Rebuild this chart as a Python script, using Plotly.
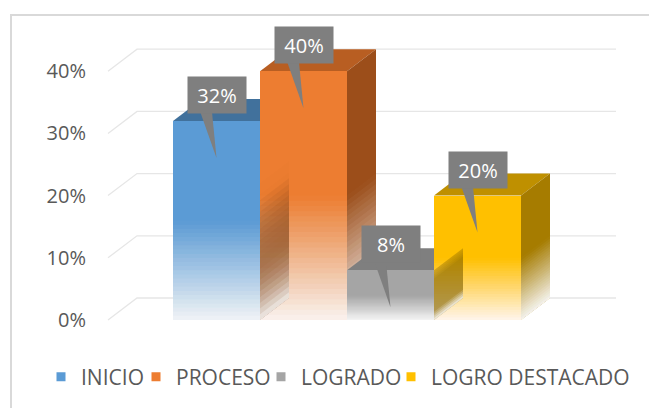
import plotly.graph_objects as go

# ---- data ----
categories = ["INICIO", "PROCESO", "LOGRADO", "LOGRO DESTACADO"]
values = [0.32, 0.40, 0.08, 0.20]
tick_values = [0, 0.1, 0.2, 0.3, 0.4]
tick_labels = ["0%", "10%", "20%", "30%", "40%"]

# ---- styles ----
front_colors = ["#5B9BD5", "#ED7D31", "#A5A5A5", "#FFC000"]
front_rgb = [(91, 155, 213), (237, 125, 49), (165, 165, 165), (255, 192, 0)]
top_colors = ["#41719C", "#B85E22", "#7F7F7F", "#BF9000"]
side_colors = ["#34618A", "#9C4E1A", "#6E6E6E", "#A67C00"]
legend_widths = [50, 80, 85, 200]
text_color = "#595959"
grid_color = "#E6E6E6"
FONT = "Open Sans"

# page body has an 8px margin: figure drawn 8px in from the window corner
OFF = 8
W, H = 657 - OFF, 408 - OFF
PX_PER_CAT = 87.0
X0_PX = 216.5          # window px of first bar centre
Y0_PX = 320.0          # window px of value 0 (front)
PX_PER_UNIT = 622.0
DX = 29 / PX_PER_CAT
DY = 22 / PX_PER_UNIT
N_FADE = 24


def cx(px):
    return (px - X0_PX) / PX_PER_CAT


xr = [cx(OFF), cx(657)]
yr = [(Y0_PX - 408) / PX_PER_UNIT, (Y0_PX - OFF) / PX_PER_UNIT]
x_front_left = cx(108)
x_back_left = x_front_left + DX
x_back_right = cx(616)

xs = list(range(len(categories)))

fig = go.Figure()
for i, (c, v) in enumerate(zip(categories, values)):
    fig.add_trace(go.Bar(
        x=[xs[i]], y=[v], name=c, width=1.0, showlegend=False,
        marker=dict(color=front_colors[i], line=dict(width=0)),
        hoverinfo="skip",
    ))
# legend entries (small square keys)
for i, c in enumerate(categories):
    fig.add_trace(go.Scatter(
        x=[None], y=[None], mode="markers", name=c, legendwidth=legend_widths[i],
        marker=dict(symbol="square", size=9, color=front_colors[i], line=dict(width=0)),
        hoverinfo="skip",
    ))

shapes = []
for t in tick_values:
    shapes.append(dict(
        type="path", xref="x", yref="y", layer="below",
        path=f"M{x_front_left},{t} L{x_back_left},{t + DY} L{x_back_right},{t + DY}",
        line=dict(color=grid_color, width=1.3),
    ))


def poly(pts):
    return "M" + " L".join(f"{a:.5f},{b:.5f}" for a, b in pts) + " Z"


def white_level(y, h):
    if y >= h:
        return 0.0
    return 0.95 * (1 - max(y, 0) / h)


def side_band(xrr, a, b):
    return poly([(xrr, a), (xrr, b), (xrr + DX, b + DY), (xrr + DX, a + DY)])


def nested_from_bottom(profile):
    # per-layer opacities so that stacked layers [0, edge_{k+1}] give `profile` (non-increasing)
    out = []
    for k in range(len(profile)):
        nxt = profile[k + 1] if k + 1 < len(profile) else 0.0
        out.append(1 - (1 - profile[k]) / (1 - nxt))
    return out


# nested fade layers: combined white opacity at band k = target[k]
target = [0.95 * (1 - (k + 0.5) / N_FADE) for k in range(N_FADE)]
layer_alpha = nested_from_bottom(target)

# 3D top and side faces (behind traces)
for i, v in enumerate(values):
    xl, xrr = xs[i] - 0.5, xs[i] + 0.5
    shapes.append(dict(type="path", xref="x", yref="y", layer="below",
                       path=poly([(xl, v), (xrr, v), (xrr + DX, v + DY), (xl + DX, v + DY)]),
                       fillcolor=top_colors[i], line=dict(width=0)))
    shapes.append(dict(type="path", xref="x", yref="y", layer="below",
                       path=side_band(xrr, 0, v), fillcolor=side_colors[i], line=dict(width=0)))
    h = v * 0.5
    for k in range(N_FADE):
        b = h * (k + 1) / N_FADE
        shapes.append(dict(type="path", xref="x", yref="y", layer="below",
                           path=side_band(xrr, 0, b),
                           fillcolor=f"rgba(255,255,255,{layer_alpha[k]:.4f})", line=dict(width=0)))

# fade on front faces (above traces)
for i, v in enumerate(values):
    h = v * 0.5
    for k in range(N_FADE):
        b = h * (k + 1) / N_FADE
        shapes.append(dict(type="rect", xref="x", yref="y", layer="above",
                           x0=xs[i] - 0.5, x1=xs[i] + 0.5, y0=0, y1=b,
                           fillcolor=f"rgba(255,255,255,{layer_alpha[k]:.4f})", line=dict(width=0)))

# previous (shorter) bar's side face seen through the translucent lower part of the next bar
N_SEE = 24
for i in range(1, len(values)):
    vp, vi = values[i - 1], values[i]
    if vp > vi:
        continue
    xrr = xs[i - 1] + 0.5
    hp, hi = vp * 0.5, vi * 0.5
    top = min(vp, hi * 1.1)
    r, g, bl = (int(c * 0.5) for c in front_rgb[i])
    edges = [top * k / N_SEE for k in range(N_SEE + 1)]
    beta = []
    for k in range(N_SEE):
        yc = (edges[k] + edges[k + 1]) / 2
        beta.append(max(0.01, min(0.6, 1.8 * white_level(yc, hi) * (1 - white_level(yc, hp)))))
    p = max(range(N_SEE), key=lambda k: beta[k])
    dark = [beta[p] if k <= p else beta[k] for k in range(N_SEE)]
    dark_alpha = nested_from_bottom(dark)
    for k in range(N_SEE):
        if dark_alpha[k] > 0.002:
            shapes.append(dict(type="path", xref="x", yref="y", layer="above",
                               path=side_band(xrr, 0, edges[k + 1]),
                               fillcolor=f"rgba({r},{g},{bl},{dark_alpha[k]:.4f})", line=dict(width=0)))
    # whiten back the lower part, where the hidden side face is itself faded
    wprof = [min(0.97, 1 - beta[k] / dark[k]) if k < p else 0.0 for k in range(p + 1)]
    w_alpha = nested_from_bottom(wprof)
    for k in range(p):
        if w_alpha[k] > 0.002:
            shapes.append(dict(type="path", xref="x", yref="y", layer="above",
                               path=side_band(xrr, 0, edges[k + 1]),
                               fillcolor=f"rgba(255,255,255,{w_alpha[k]:.4f})", line=dict(width=0)))

# callouts
annotations = []
for i, v in enumerate(values):
    cy = v + 26 / PX_PER_UNIT
    base_y = cy - 12 / PX_PER_UNIT
    tip_y = v - 37 / PX_PER_UNIT
    shapes.append(dict(type="path", xref="x", yref="y", layer="above",
                       path=poly([(xs[i] - 18 / PX_PER_CAT, base_y), (xs[i] - 5 / PX_PER_CAT, base_y),
                                  (xs[i], tip_y)]),
                       fillcolor="#7F7F7F", line=dict(width=0)))
    annotations.append(dict(
        x=xs[i], y=cy, xref="x", yref="y", text=f"{round(v * 100)}%",
        showarrow=False, bgcolor="#7F7F7F", width=56, height=34, borderpad=1,
        font=dict(family=FONT, size=20, color="white"),
    ))

# chart frame
shapes.append(dict(type="rect", xref="paper", yref="paper",
                   x0=(11 - OFF) / W, x1=1.05, y0=-0.05, y1=1 - (15 - OFF) / H,
                   line=dict(color="#D9D9D9", width=2), fillcolor="rgba(0,0,0,0)"))

fig.update_layout(
    width=W, height=H,
    margin=dict(l=0, r=0, t=0, b=0, autoexpand=False),
    paper_bgcolor="white", plot_bgcolor="white",
    barmode="overlay", bargap=0,
    font=dict(family=FONT, size=20, color=text_color),
    xaxis=dict(domain=[0, 1], range=xr, showticklabels=False, showgrid=False, zeroline=False,
               showline=False, ticks="", fixedrange=True),
    yaxis=dict(range=yr, anchor="free", position=(90 - OFF) / W,
               tickvals=tick_values, ticktext=tick_labels, showgrid=False,
               zeroline=False, showline=False, ticks="", ticklabelstandoff=4,
               tickfont=dict(family=FONT, size=20, color=text_color), fixedrange=True),
    shapes=shapes,
    annotations=annotations,
    showlegend=True,
    legend=dict(orientation="h", xref="container", yref="container",
                x=(41 - OFF) / W, y=1 - (377 - OFF) / H, xanchor="left", yanchor="middle",
                font=dict(family=FONT, size=21, color=text_color),
                bgcolor="rgba(0,0,0,0)", itemwidth=30, tracegroupgap=0),
    hovermode=False,
)

fig.write_html("out.html")
